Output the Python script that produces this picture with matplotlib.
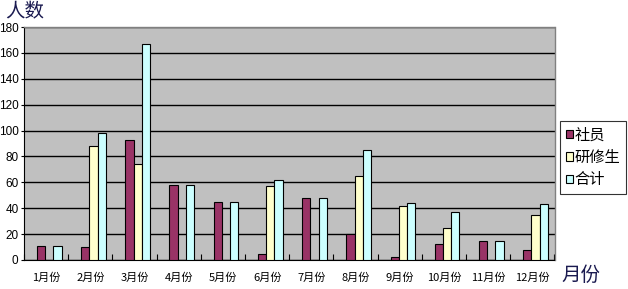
import matplotlib
matplotlib.use("Agg")
import matplotlib.pyplot as plt
import numpy as np
from matplotlib.ticker import FixedLocator, NullFormatter

plt.rcParams['font.family'] = ['Noto Sans CJK SC', 'DejaVu Sans']

months = ["1月份", "2月份", "3月份", "4月份", "5月份", "6月份",
          "7月份", "8月份", "9月份", "10月份", "11月份", "12月份"]
shain = [11, 10, 93, 58, 45, 5, 48, 20, 2, 12, 15, 8]
kenshusei = [0, 88, 74, 0, 0, 57, 0, 65, 42, 25, 0, 35]
total = [11, 98, 167, 58, 45, 62, 48, 85, 44, 37, 15, 43]
series_names = ["社员", "研修生", "合计"]
colors = ["#993366", "#FFFFCC", "#CCFFFF"]
yticks = [0, 20, 40, 60, 80, 100, 120, 140, 160, 180]

W, H = 628, 289
fig = plt.figure(figsize=(W / 100, H / 100), dpi=100)
ax = fig.add_axes([24 / W, (H - 260) / H, (554.5 - 24) / W, (260 - 27) / H])
ax.set_facecolor("#C0C0C0")

x = np.arange(len(months))
bw = 0.186
off = 0.07
for i, (vals, c, name) in enumerate(zip([shain, kenshusei, total], colors, series_names)):
    ax.bar(x + off + (i - 1) * bw, vals, width=bw, color=c, edgecolor="black",
           linewidth=0.8, label=name, zorder=3)

ax.set_xlim(-0.5, len(months) - 0.5)
ax.set_ylim(0, 180)
ax.set_yticks(yticks)
ax.set_yticklabels([str(v) for v in yticks], fontsize=8.5, family=['Liberation Sans'])
ax.yaxis.grid(True, color="black", linewidth=1.0, zorder=1)
ax.set_axisbelow(True)

ax.set_xticks(x)
ax.set_xticklabels(months, fontsize=8)
ax.tick_params(axis="x", length=0, pad=9)
ax.xaxis.set_minor_locator(FixedLocator(np.arange(-0.5, len(months), 1.0)))
ax.xaxis.set_minor_formatter(NullFormatter())
ax.tick_params(axis="x", which="minor", length=4, width=0.8, direction="in", color="black")
ax.tick_params(axis="y", length=2, width=0.8, direction="out", pad=2)

for s in ["top", "right"]:
    ax.spines[s].set_color("#808080")
    ax.spines[s].set_linewidth(1.0)
ax.spines["left"].set_color("black")
ax.spines["bottom"].set_color("black")

fig.text(5 / W, (H - 12) / H, "人数", fontsize=14, color="#1a1a50", va="center", ha="left")
fig.text(561 / W, (H - 275) / H, "月份", fontsize=14, color="#1a1a50", va="center", ha="left")

leg = fig.legend(loc="upper left", bbox_to_anchor=(560 / W, (H - 121) / H),
                 frameon=True, fancybox=False, edgecolor="black", fontsize=11,
                 handlelength=0.45, handleheight=0.45, handletextpad=0.1,
                 borderpad=0.38, labelspacing=0.34, borderaxespad=0)
leg.get_frame().set_linewidth(0.8)

fig.savefig("out.png", dpi=100, facecolor="white")
